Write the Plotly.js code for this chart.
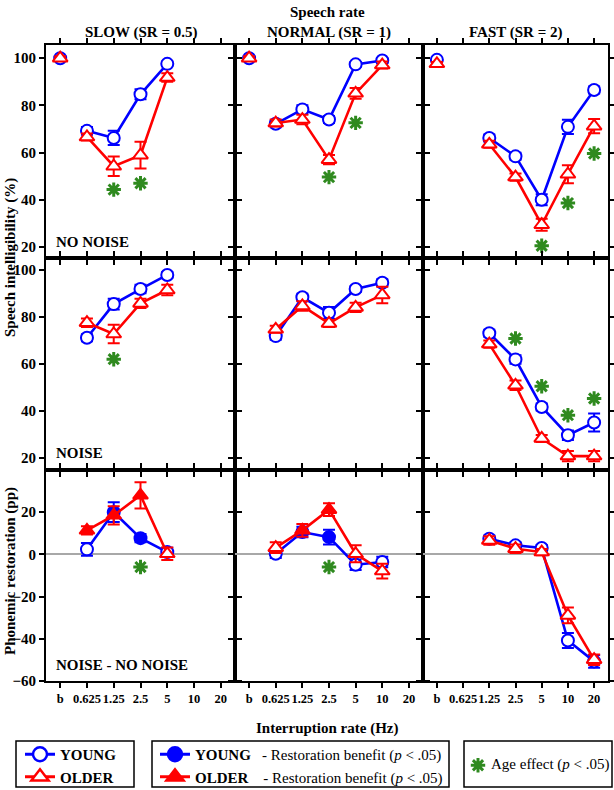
<!DOCTYPE html>
<html><head><meta charset="utf-8">
<script src="https://cdn.plot.ly/plotly-3.0.1.min.js"></script>
<style>html,body{margin:0;padding:0;background:#fff}</style>
</head><body><div id="chart" style="width:614px;height:790px"></div>
<script>
// ---------------- DATA ----------------
const rates = ['b', '0.625', '1.25', '2.5', '5', '10', '20'];
const speechRates = ['SLOW (SR = 0.5)', 'NORMAL (SR = 1)', 'FAST (SR = 2)'];
const conditions = ['NO NOISE', 'NOISE', 'NOISE - NO NOISE'];

// Row 1: NO NOISE (% intelligibility)
const noNoiseSlowYoung     = [100, 69.2, 66.2, 84.7, 97.6, null, null];
const noNoiseSlowYoungSE   = [0.6, 1.6, 3.0, 2.1, 1.0, null, null];
const noNoiseSlowOlder     = [100, 66.6, 54.2, 58.9, 91.8, null, null];
const noNoiseSlowOlderSE   = [0.8, 1.5, 4.1, 5.7, 1.8, null, null];
const noNoiseNormalYoung   = [100, 72.2, 78.3, 74.0, 97.4, 99.0, null];
const noNoiseNormalYoungSE = [0.6, 1.5, 1.8, 1.5, 1.0, 1.0, null];
const noNoiseNormalOlder   = [100, 72.5, 74.0, 57.0, 85.1, 97.1, null];
const noNoiseNormalOlderSE = [0.8, 1.5, 2.0, 2.0, 2.3, 1.5, null];
const noNoiseFastYoung     = [99.3, null, 66.2, 58.4, 40.0, 70.9, 86.5];
const noNoiseFastYoungSE   = [0.8, null, 1.5, 1.5, 2.3, 3.0, 1.5];
const noNoiseFastOlder     = [97.6, null, 63.5, 49.6, 29.4, 50.8, 71.2];
const noNoiseFastOlderSE   = [0.8, null, 1.5, 1.5, 2.5, 3.8, 3.0];

// Row 2: NOISE (% intelligibility)
const noiseSlowYoung     = [null, 71.2, 85.5, 91.9, 97.9, null, null];
const noiseSlowYoungSE   = [null, 1.5, 2.3, 1.8, 1.2, null, null];
const noiseSlowOlder     = [null, 77.6, 72.8, 85.8, 91.5, null, null];
const noiseSlowOlderSE   = [null, 1.8, 3.9, 2.0, 2.2, null, null];
const noiseNormalYoung   = [null, 71.9, 88.4, 81.8, 91.9, 94.6, null];
const noiseNormalYoungSE = [null, 1.5, 1.5, 2.5, 1.2, 1.5, null];
const noiseNormalOlder   = [null, 74.8, 84.7, 77.3, 84.1, 89.4, null];
const noiseNormalOlderSE = [null, 1.5, 2.0, 1.5, 2.0, 3.5, null];
const noiseFastYoung     = [null, null, 73.1, 62.0, 41.8, 29.8, 35.2];
const noiseFastYoungSE   = [null, null, 1.5, 1.8, 1.5, 2.0, 3.8];
const noiseFastOlder     = [null, null, 68.5, 51.0, 28.4, 20.9, 20.9];
const noiseFastOlderSE   = [null, null, 1.5, 2.0, 1.5, 2.2, 2.2];

// Row 3: NOISE - NO NOISE (phonemic restoration, pp)
const diffSlowYoung       = [null, 2.4, 20.0, 7.7, 1.1, null, null];
const diffSlowYoungSE     = [null, 3.0, 4.7, 2.0, 2.0, null, null];
const diffSlowYoungSig    = [0, 0, 1, 1, 0, 0, 0];
const diffSlowOlder       = [null, 11.4, 18.5, 28.0, 0.3, null, null];
const diffSlowOlderSE     = [null, 2.0, 4.3, 6.2, 3.0, null, null];
const diffSlowOlderSig    = [0, 1, 1, 1, 0, 0, 0];
const diffNormalYoung     = [null, 0.3, 10.6, 8.2, -4.9, -3.6, null];
const diffNormalYoungSE   = [null, 2.0, 2.5, 3.5, 2.5, 2.5, null];
const diffNormalYoungSig  = [0, 0, 1, 1, 0, 0, 0];
const diffNormalOlder     = [null, 3.2, 11.4, 21.2, 0.3, -7.9, null];
const diffNormalOlderSE   = [null, 2.5, 3.0, 3.0, 4.0, 3.5, null];
const diffNormalOlderSig  = [0, 0, 1, 1, 0, 0, 0];
const diffFastYoung       = [null, null, 7.4, 4.3, 3.0, -40.8, -50.7];
const diffFastYoungSE     = [null, null, 1.5, 1.5, 1.5, 3.6, 3.0];
const diffFastYoungSig    = [0, 0, 0, 0, 0, 0, 0];
const diffFastOlder       = [null, null, 6.6, 2.7, 1.1, -28.9, -49.9];
const diffFastOlderSE     = [null, null, 2.0, 2.0, 1.5, 3.7, 2.5];
const diffFastOlderSig    = [0, 0, 0, 0, 0, 0, 0];

// Age effect (p < .05) markers
const ageNoNoiseSlowX   = ['1.25', '2.5'];      const ageNoNoiseSlowY   = [44.3, 47.0];
const ageNoNoiseNormalX = ['2.5', '5'];         const ageNoNoiseNormalY = [49.6, 72.6];
const ageNoNoiseFastX   = ['5', '10', '20'];    const ageNoNoiseFastY   = [20.5, 38.6, 59.6];
const ageNoiseSlowX     = ['1.25'];             const ageNoiseSlowY     = [62.1];
const ageNoiseNormalX   = [];                   const ageNoiseNormalY   = [];
const ageNoiseFastX     = ['2.5', '5', '10', '20']; const ageNoiseFastY = [70.9, 50.6, 38.3, 45.4];
const ageDiffSlowX      = ['2.5'];              const ageDiffSlowY      = [-6.0];
const ageDiffNormalX    = ['2.5'];              const ageDiffNormalY    = [-6.0];
const ageDiffFastX      = [];                   const ageDiffFastY      = [];

const intelligibilityTicks = [20, 40, 60, 80, 100];
const restorationTicks = [-60, -40, -20, 0, 20];

// ---------------- STYLE / LAYOUT ----------------
const BLUE = '#0000ff', RED = '#ff0000', GREEN = '#2f8a1f';
const SERIF = 'Liberation Serif, Times New Roman, serif';
const W = 614, H = 790, ML = 46, MR = 6, MT = 45, MB = 109;
const PW = W - ML - MR, PH = H - MT - MB;
const px2x = px => (px - ML) / PW;
const px2y = py => (H - MB - py) / PH;

const xDom = [[0, px2x(235)], [px2x(235), px2x(423)], [px2x(423), 1]];
const yDom = [[px2y(258), 1], [px2y(470), px2y(258)], [0, px2y(470)]];
const yRanges = [[15.3, 105.6], [15.0, 105.1], [-60, 40]];

const panels = [
  {r:0,c:0, y:noNoiseSlowYoung, ySE:noNoiseSlowYoungSE, o:noNoiseSlowOlder, oSE:noNoiseSlowOlderSE, ax:ageNoNoiseSlowX, ay:ageNoNoiseSlowY},
  {r:0,c:1, y:noNoiseNormalYoung, ySE:noNoiseNormalYoungSE, o:noNoiseNormalOlder, oSE:noNoiseNormalOlderSE, ax:ageNoNoiseNormalX, ay:ageNoNoiseNormalY},
  {r:0,c:2, y:noNoiseFastYoung, ySE:noNoiseFastYoungSE, o:noNoiseFastOlder, oSE:noNoiseFastOlderSE, ax:ageNoNoiseFastX, ay:ageNoNoiseFastY},
  {r:1,c:0, y:noiseSlowYoung, ySE:noiseSlowYoungSE, o:noiseSlowOlder, oSE:noiseSlowOlderSE, ax:ageNoiseSlowX, ay:ageNoiseSlowY},
  {r:1,c:1, y:noiseNormalYoung, ySE:noiseNormalYoungSE, o:noiseNormalOlder, oSE:noiseNormalOlderSE, ax:ageNoiseNormalX, ay:ageNoiseNormalY},
  {r:1,c:2, y:noiseFastYoung, ySE:noiseFastYoungSE, o:noiseFastOlder, oSE:noiseFastOlderSE, ax:ageNoiseFastX, ay:ageNoiseFastY},
  {r:2,c:0, y:diffSlowYoung, ySE:diffSlowYoungSE, ys:diffSlowYoungSig, o:diffSlowOlder, oSE:diffSlowOlderSE, os:diffSlowOlderSig, ax:ageDiffSlowX, ay:ageDiffSlowY},
  {r:2,c:1, y:diffNormalYoung, ySE:diffNormalYoungSE, ys:diffNormalYoungSig, o:diffNormalOlder, oSE:diffNormalOlderSE, os:diffNormalOlderSig, ax:ageDiffNormalX, ay:ageDiffNormalY},
  {r:2,c:2, y:diffFastYoung, ySE:diffFastYoungSE, ys:diffFastYoungSig, o:diffFastOlder, oSE:diffFastOlderSE, os:diffFastOlderSig, ax:ageDiffFastX, ay:ageDiffFastY}
];

function series(vals, se, sig, color, symbol, size, xa, ya) {
  const xs = [], ys = [], es = [], fills = [];
  rates.forEach((rate, i) => {
    if (vals[i] === null) return;
    xs.push(rate); ys.push(vals[i]); es.push(se[i]);
    fills.push(sig && sig[i] ? color : '#ffffff');
    if (rate === 'b') { xs.push(rate); ys.push(null); es.push(null); fills.push('#ffffff'); }
  });
  return {
    type: 'scatter', mode: 'lines+markers', x: xs, y: ys, xaxis: xa, yaxis: ya,
    showlegend: false, hoverinfo: 'x+y', cliponaxis: false,
    line: {color: color, width: 2.6},
    marker: {symbol: symbol, size: size, color: fills, line: {color: color, width: 2}},
    error_y: {type: 'data', array: es, visible: true, color: color, thickness: 2, width: 6}
  };
}

const data = [];
const layout = {
  width: W, height: H, margin: {l: ML, r: MR, t: MT, b: MB, autoexpand: false},
  paper_bgcolor: '#fff', plot_bgcolor: '#fff', showlegend: true,
  font: {family: SERIF, color: '#000'},
  annotations: [], shapes: []
};

panels.forEach(p => {
  const id = p.r * 3 + p.c + 1;
  const sfx = id === 1 ? '' : String(id);
  const xa = 'x' + sfx, ya = 'y' + sfx;
  data.push(series(p.y, p.ySE, p.ys, BLUE, 'circle', 12, xa, ya));
  data.push(series(p.o, p.oSE, p.os, RED, 'triangle-up', 13, xa, ya));
  if (p.ax.length) {
    data.push({type: 'scatter', mode: 'markers', x: p.ax, y: p.ay, xaxis: xa, yaxis: ya,
      showlegend: false, hoverinfo: 'skip', cliponaxis: false,
      marker: {symbol: 'asterisk', size: 12, color: GREEN, line: {color: GREEN, width: 3}}});
  }
  layout['xaxis' + sfx] = {
    domain: xDom[p.c], anchor: ya, type: 'category',
    categoryorder: 'array', categoryarray: rates, range: [-0.53, 6.53],
    tickmode: 'array', tickvals: rates, ticktext: rates, tickangle: 0,
    showticklabels: p.r === 2, ticks: 'outside', ticklen: 5, tickwidth: 2, tickcolor: '#000',
    showline: true, linecolor: '#000', linewidth: 2, mirror: 'ticks',
    showgrid: false, zeroline: false, fixedrange: true, automargin: false,
    tickfont: {family: SERIF, size: 12.5, weight: 'bold', color: '#000'}
  };
  layout['yaxis' + sfx] = {
    domain: yDom[p.r], anchor: xa, range: yRanges[p.r],
    tickmode: 'array', tickvals: p.r === 2 ? restorationTicks : intelligibilityTicks,
    showticklabels: p.c === 0, ticks: 'outside', ticklen: 5, tickwidth: 2, tickcolor: '#000',
    showline: true, linecolor: '#000', linewidth: 2, mirror: 'ticks',
    showgrid: false, fixedrange: true, automargin: false,
    zeroline: p.r === 2, zerolinecolor: '#a8a8a8', zerolinewidth: 2,
    tickfont: {family: SERIF, size: 15, weight: 'bold', color: '#000'}
  };
});

// Legend-only traces
data.push({type:'scatter', mode:'lines+markers', x:[null], y:[null], name:'<b>YOUNG</b>', legend:'legend',
  line:{color:BLUE, width:3}, marker:{symbol:'circle', size:14, color:'#fff', line:{color:BLUE, width:2.5}}, hoverinfo:'skip'});
data.push({type:'scatter', mode:'lines+markers', x:[null], y:[null], name:'<b>OLDER</b>', legend:'legend',
  line:{color:RED, width:3}, marker:{symbol:'triangle-up', size:15, color:'#fff', line:{color:RED, width:2.5}}, hoverinfo:'skip'});
data.push({type:'scatter', mode:'lines+markers', x:[null], y:[null], name:'<b>YOUNG</b>\u00a0\u00a0\u00a0- Restoration benefit (<i>p</i> < .05)', legend:'legend2',
  line:{color:BLUE, width:3}, marker:{symbol:'circle', size:14, color:BLUE, line:{color:BLUE, width:2.5}}, hoverinfo:'skip'});
data.push({type:'scatter', mode:'lines+markers', x:[null], y:[null], name:'<b>OLDER</b>\u00a0\u00a0\u00a0\u00a0- Restoration benefit (<i>p</i> < .05)', legend:'legend2',
  line:{color:RED, width:3}, marker:{symbol:'triangle-up', size:15, color:RED, line:{color:RED, width:2.5}}, hoverinfo:'skip'});
data.push({type:'scatter', mode:'markers', x:[null], y:[null], name:' ', legend:'legend3',
  marker:{symbol:'asterisk', size:12, color:GREEN, line:{color:GREEN, width:3}}, hoverinfo:'skip'});

const legBase = {xanchor:'left', yanchor:'top', bgcolor:'rgba(0,0,0,0)', borderwidth:0,
  font:{family:SERIF, size:15, color:'#000'}, itemclick:false, itemdoubleclick:false};
layout.legend  = Object.assign({}, legBase, {x: px2x(20), y: px2y(738)});
layout.legend2 = Object.assign({}, legBase, {x: px2x(155), y: px2y(738)});
layout.legend3 = Object.assign({}, legBase, {x: px2x(458), y: px2y(749)});

// Legend boxes
[[16, 134], [152, 449], [464, 612]].forEach(b => {
  layout.shapes.push({type:'rect', xref:'paper', yref:'paper', x0:px2x(b[0]), x1:px2x(b[1]),
    y0:px2y(787), y1:px2y(741), line:{color:'#000', width:1.5}, fillcolor:'rgba(0,0,0,0)'});
});

function ann(text, x, y, opts) {
  layout.annotations.push(Object.assign({text: text, x: x, y: y, xref:'paper', yref:'paper',
    showarrow:false, xanchor:'center', yanchor:'middle',
    font:{family:SERIF, size:15, color:'#000', weight:'bold'}}, opts || {}));
}
ann('Speech rate', 0.5, px2y(12));
speechRates.forEach((t, c) => ann(t, (xDom[c][0] + xDom[c][1]) / 2, px2y(32)));
ann('Speech intelligibility (%)', px2x(10), px2y(258), {textangle:-90});
ann('Phonemic restoration (pp)', px2x(10), px2y(571), {textangle:-90});
ann('Interruption rate (Hz)', 0.5, px2y(728));
[242, 453, 665].forEach((py, r) => ann(conditions[r], px2x(54), px2y(py), {xanchor:'left'}));
ann('Age effect (<i>p</i> < .05)', px2x(489), px2y(764), {xanchor:'left',
  font:{family:SERIF, size:15, color:'#000', weight:'normal'}});

Plotly.newPlot('chart', data, layout, {displayModeBar:false, staticPlot:true});
</script></body></html>
